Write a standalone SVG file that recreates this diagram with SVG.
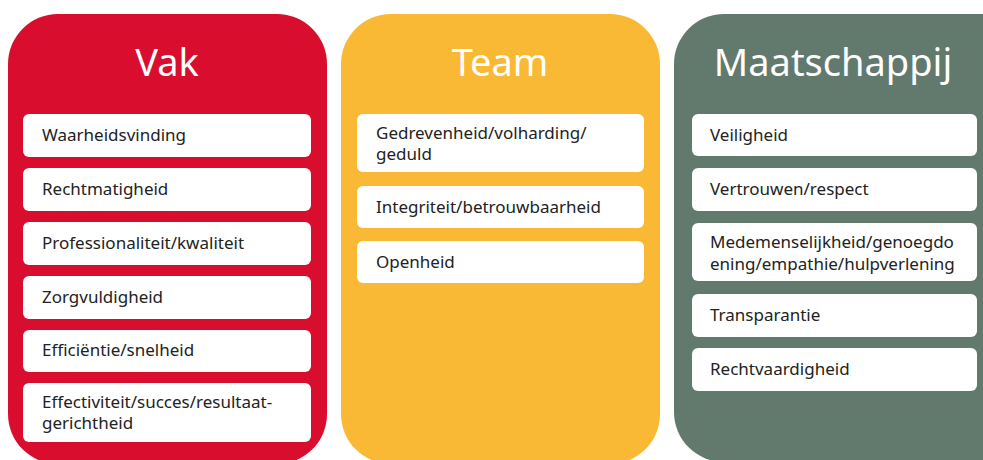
<svg xmlns="http://www.w3.org/2000/svg" width="983" height="460" viewBox="0 0 983 460">
<style>
.col-title{font-family:"Noto Sans","Open Sans",sans-serif;font-size:38px;fill:#ffffff;text-anchor:middle}
.box{fill:#ffffff}
.lbl{font-family:"Noto Sans","Open Sans",sans-serif;font-size:17px;fill:#222222}
</style>
<rect width="983" height="460" fill="#ffffff"/>
<g id="col-vak">
<rect x="8" y="14" width="319" height="450" rx="50" fill="#D90E2E"/>
<text class="col-title" x="167" y="76">Vak</text>
</g>
<g id="col-team">
<rect x="341" y="14" width="319" height="450" rx="50" fill="#F9B934"/>
<text class="col-title" x="500" y="76">Team</text>
</g>
<g id="col-maatschappij">
<rect x="674" y="14" width="360" height="448" rx="50" fill="#62796E"/>
<text class="col-title" x="833" y="76">Maatschappij</text>
</g>
<g id="vak-1"><rect class="box" x="23" y="114" width="288" height="43" rx="6"/><text class="lbl" x="42" y="141">Waarheidsvinding</text></g>
<g id="vak-2"><rect class="box" x="23" y="168" width="288" height="43" rx="6"/><text class="lbl" x="42" y="195">Rechtmatigheid</text></g>
<g id="vak-3"><rect class="box" x="23" y="222" width="288" height="43" rx="6"/><text class="lbl" x="42" y="249">Professionaliteit/kwaliteit</text></g>
<g id="vak-4"><rect class="box" x="23" y="276" width="288" height="43" rx="6"/><text class="lbl" x="42" y="303">Zorgvuldigheid</text></g>
<g id="vak-5"><rect class="box" x="23" y="330" width="288" height="42" rx="6"/><text class="lbl" x="42" y="356">Efficiëntie/snelheid</text></g>
<g id="vak-6"><rect class="box" x="23" y="383" width="288" height="59" rx="6"/><text class="lbl" x="42" y="408">Effectiviteit/succes/resultaat-</text><text class="lbl" x="42" y="429">gerichtheid</text></g>
<g id="team-1"><rect class="box" x="357" y="114" width="287" height="58" rx="6"/><text class="lbl" x="376" y="139">Gedrevenheid/volharding/</text><text class="lbl" x="376" y="160">geduld</text></g>
<g id="team-2"><rect class="box" x="357" y="186" width="287" height="42" rx="6"/><text class="lbl" x="376" y="213">Integriteit/betrouwbaarheid</text></g>
<g id="team-3"><rect class="box" x="357" y="241" width="287" height="42" rx="6"/><text class="lbl" x="376" y="268">Openheid</text></g>
<g id="maat-1"><rect class="box" x="692" y="114" width="285" height="42" rx="6"/><text class="lbl" x="710" y="141">Veiligheid</text></g>
<g id="maat-2"><rect class="box" x="692" y="168" width="285" height="43" rx="6"/><text class="lbl" x="710" y="195">Vertrouwen/respect</text></g>
<g id="maat-3"><rect class="box" x="692" y="223" width="285" height="58" rx="6"/><text class="lbl" x="710" y="248">Medemenselijkheid/genoegdo</text><text class="lbl" x="710" y="270">ening/empathie/hulpverlening</text></g>
<g id="maat-4"><rect class="box" x="692" y="294" width="285" height="43" rx="6"/><text class="lbl" x="710" y="321">Transparantie</text></g>
<g id="maat-5"><rect class="box" x="692" y="348" width="285" height="43" rx="6"/><text class="lbl" x="710" y="375">Rechtvaardigheid</text></g>
<g id="connectors"/>
</svg>
